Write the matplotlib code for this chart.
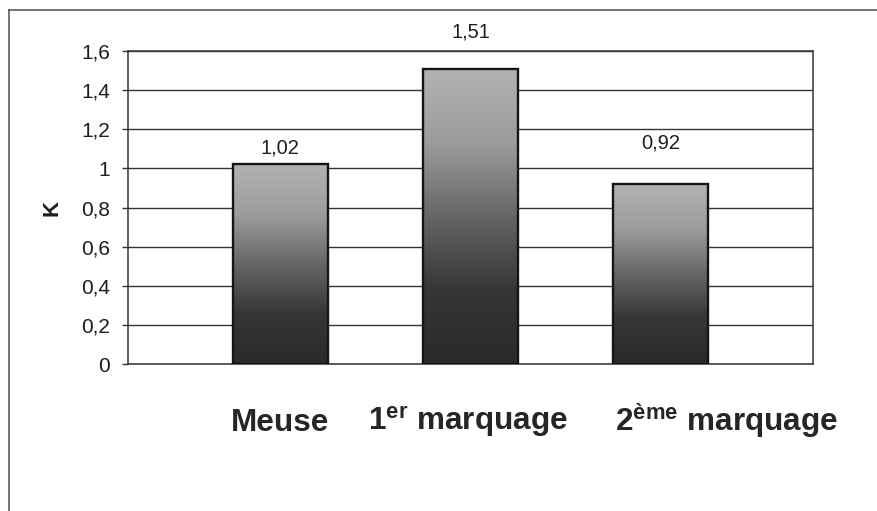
import numpy as np
import matplotlib
matplotlib.use("Agg")
import matplotlib.pyplot as plt
from matplotlib.lines import Line2D
from matplotlib.colors import LinearSegmentedColormap

plt.rcParams['font.family'] = ['Liberation Sans', 'DejaVu Sans']
plt.rcParams['mathtext.fontset'] = 'custom'
plt.rcParams['mathtext.rm'] = 'Liberation Sans:bold'
plt.rcParams['mathtext.bf'] = 'Liberation Sans:bold'
plt.rcParams['mathtext.it'] = 'Liberation Sans:bold'

# data
categories = ['Meuse', r'$\mathbf{1}^{\mathbf{er}}$ marquage', r'$\mathbf{2}^{\mathbf{ème}}$ marquage']
values = [1.02, 1.51, 0.92]
value_labels = ['1,02', '1,51', '0,92']
yticks = [0, 0.2, 0.4, 0.6, 0.8, 1.0, 1.2, 1.4, 1.6]
ytick_labels = ['0', '0,2', '0,4', '0,6', '0,8', '1', '1,2', '1,4', '1,6']

# layout tweaks (label positions as in the original)
label_shift = [0.0, -0.016, 0.347]
label_offset_pts = [11.5, 26.5, 29.5]

text_col = '#1e1e1e'
line_col = '#333333'

fig = plt.figure(figsize=(8.78, 5.11), dpi=100)
ax = fig.add_axes([128/878, 1-364/511, (813-128)/878, (364-51)/511])

cmap = LinearSegmentedColormap.from_list('bar', ['#2a2a2a', '#363636', '#666666', '#9c9c9c', '#b2b2b2'])
grad = np.linspace(0, 1, 256).reshape(-1, 1)

x = np.arange(len(values))
bars = ax.bar(x, values, width=0.5, facecolor='none', edgecolor='#151515', linewidth=1.7, zorder=3)
for b in bars:
    x0, y0 = b.get_x(), b.get_y()
    im = ax.imshow(grad, cmap=cmap, aspect='auto', origin='lower',
                   extent=[x0, x0 + b.get_width(), y0, y0 + b.get_height()], zorder=2)
    im.set_clip_path(b)

for xi, v, lab, off in zip(x, values, value_labels, label_offset_pts):
    ax.annotate(lab, (xi, v), xytext=(0, off), textcoords='offset points',
                ha='center', va='center', fontsize=14.5, color=text_col)

ax.set_xlim(-0.8, 2.8)
ax.set_ylim(0, 1.6)
ax.set_yticks(yticks)
ax.set_yticklabels(ytick_labels, fontsize=15, color=text_col)
ax.set_xticks([])
ax.tick_params(axis='y', length=4.5, width=1, color=line_col, pad=8.5)
ax.yaxis.grid(True, color=line_col, linewidth=1)
ax.set_axisbelow(True)
for s in ax.spines.values():
    s.set_color(line_col)
    s.set_linewidth(1.1)

ax.set_ylabel('K', fontsize=16, fontweight='bold', color=text_col, labelpad=13)

for xi, cat, sh in zip(x, categories, label_shift):
    ax.text(xi + sh, -0.213, cat, transform=ax.get_xaxis_transform(),
            ha='center', va='baseline', fontsize=22.7, fontweight='bold', color='#262626')

# outer frame (top and left sides only visible)
fig.add_artist(Line2D([9/878, 1], [1-10/511, 1-10/511], color='#505050', linewidth=1.1))
fig.add_artist(Line2D([9/878, 9/878], [0, 1-10/511], color='#505050', linewidth=1.1))

fig.savefig('out.png', dpi=100)
